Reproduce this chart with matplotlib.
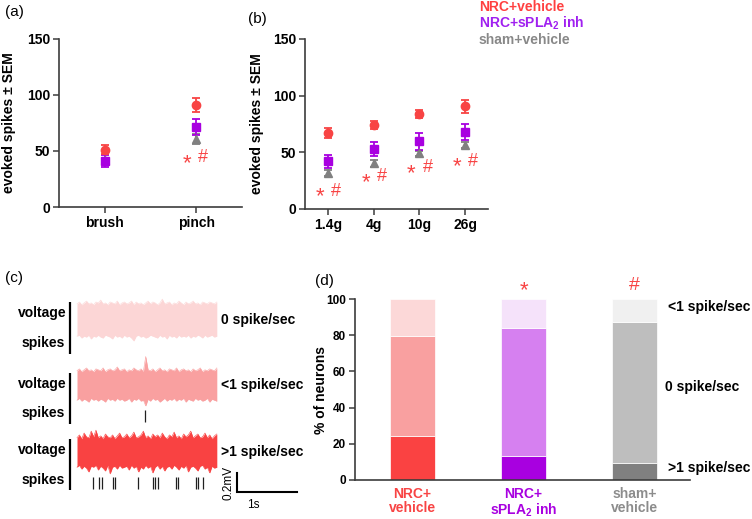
import numpy as np
import matplotlib
matplotlib.use("Agg")
import matplotlib.pyplot as plt

plt.rcParams['font.family'] = ['Liberation Sans', 'DejaVu Sans']
plt.rcParams['mathtext.fontset'] = 'custom'
plt.rcParams['mathtext.rm'] = 'Liberation Sans:bold'
plt.rcParams['mathtext.it'] = 'Liberation Sans:bold'
plt.rcParams['mathtext.bf'] = 'Liberation Sans:bold'
plt.rcParams['mathtext.default'] = 'rm'

# ---------------- data ----------------
groups = ["NRC+vehicle", "NRC+sPLA$_2$ inh", "sham+vehicle"]
grp_colors = ["#F84444", "#A800E0", "#808080"]
grp_markers = ["o", "s", "^"]

# panel (a)
a_cats = ["brush", "pinch"]
a_mean = {"NRC+vehicle": [51, 91], "NRC+sPLA$_2$ inh": [41, 71.5], "sham+vehicle": [42, 61]}
a_sem = {"NRC+vehicle": [4, 6.5], "NRC+sPLA$_2$ inh": [5.5, 7.5], "sham+vehicle": [2, 4.5]}
a_sig_y = [None, 44]

# panel (b)
b_cats = ["1.4g", "4g", "10g", "26g"]
b_mean = {"NRC+vehicle": [67, 74, 83.5, 90.5],
          "NRC+sPLA$_2$ inh": [42, 53, 60, 68],
          "sham+vehicle": [32, 40.5, 49, 56.5]}
b_sem = {"NRC+vehicle": [4.5, 3.5, 3.5, 6],
         "NRC+sPLA$_2$ inh": [6, 6, 7.5, 7],
         "sham+vehicle": [2.5, 3, 2.5, 3]}
b_sig_y = [15.5, 28.5, 36.5, 42]

# panel (c) voltage envelopes (mV relative to trace centre) and spike times (s)
trace_labels = ["0 spike/sec", "<1 spike/sec", ">1 spike/sec"]
trace_colors = ["#FCD6D6", "#F9A0A0", "#F94242"]
trace_dur = 2.33
up1 = [0.17,0.19,0.16,0.18,0.20,0.17,0.18,0.16,0.19,0.18,
       0.21,0.17,0.18,0.16,0.19,0.18,0.17,0.20,0.16,0.18,
       0.19,0.17,0.18,0.20,0.16,0.19,0.17,0.18,0.16,0.18,
       0.20,0.17,0.19,0.18,0.16,0.18,0.22,0.17,0.18,0.19,
       0.16,0.18,0.17,0.20,0.18,0.16,0.19,0.17,0.18,0.20,
       0.17,0.18,0.16,0.19,0.18,0.17,0.19,0.18,0.17,0.19]
lo1 = [0.17,0.16,0.19,0.17,0.18,0.16,0.20,0.17,0.18,0.16,
       0.18,0.19,0.16,0.17,0.18,0.20,0.16,0.18,0.17,0.19,
       0.16,0.18,0.17,0.19,0.22,0.17,0.16,0.18,0.17,0.19,
       0.18,0.16,0.17,0.18,0.19,0.16,0.18,0.17,0.20,0.16,
       0.18,0.17,0.19,0.16,0.18,0.17,0.18,0.16,0.19,0.17,
       0.18,0.16,0.17,0.19,0.16,0.18,0.17,0.16,0.18,0.17]
up2 = [0.15,0.17,0.14,0.16,0.18,0.15,0.16,0.14,0.17,0.16,
       0.15,0.18,0.14,0.16,0.17,0.15,0.16,0.19,0.15,0.16,
       0.17,0.14,0.16,0.15,0.18,0.16,0.15,0.17,0.14,0.30,
       0.16,0.15,0.17,0.14,0.16,0.18,0.15,0.16,0.14,0.17,
       0.16,0.15,0.18,0.14,0.16,0.17,0.15,0.16,0.14,0.17,
       0.15,0.16,0.18,0.14,0.16,0.15,0.17,0.16,0.15,0.18]
lo2 = [0.16,0.14,0.17,0.15,0.16,0.18,0.14,0.16,0.15,0.17,
       0.15,0.16,0.18,0.14,0.16,0.15,0.17,0.14,0.16,0.15,
       0.17,0.16,0.14,0.18,0.15,0.16,0.14,0.17,0.16,0.22,
       0.15,0.17,0.14,0.16,0.15,0.18,0.16,0.14,0.17,0.15,
       0.16,0.14,0.17,0.15,0.16,0.14,0.18,0.15,0.16,0.17,
       0.14,0.16,0.15,0.17,0.16,0.14,0.18,0.15,0.16,0.17]
up3 = [0.15,0.18,0.14,0.20,0.16,0.15,0.22,0.16,0.23,0.15,
       0.17,0.14,0.19,0.16,0.15,0.18,0.14,0.17,0.20,0.15,
       0.16,0.19,0.15,0.17,0.21,0.15,0.16,0.18,0.22,0.15,
       0.17,0.14,0.19,0.16,0.18,0.15,0.20,0.16,0.14,0.18,
       0.16,0.21,0.15,0.17,0.14,0.19,0.16,0.18,0.22,0.15,
       0.17,0.19,0.15,0.16,0.20,0.15,0.18,0.14,0.17,0.19]
lo3 = [0.16,0.14,0.18,0.15,0.17,0.21,0.15,0.16,0.14,0.19,
       0.15,0.17,0.20,0.14,0.23,0.16,0.15,0.18,0.14,0.17,
       0.16,0.15,0.19,0.14,0.17,0.15,0.21,0.16,0.18,0.14,
       0.17,0.15,0.22,0.16,0.14,0.18,0.15,0.20,0.16,0.15,
       0.18,0.14,0.16,0.19,0.15,0.17,0.14,0.21,0.16,0.15,
       0.17,0.20,0.15,0.14,0.18,0.16,0.22,0.15,0.17,0.16]
spikes1 = []
spikes2 = [1.13]
spikes3 = [0.26, 0.37, 0.41, 0.60, 0.63, 1.02, 1.26, 1.30, 1.35, 1.65, 1.68, 1.98, 2.02, 2.10]

# panel (d)
d_cats = ["NRC+\nvehicle", "NRC+\nsPLA$_2$ inh", "sham+\nvehicle"]
d_gt1 = [24.5, 13.0, 9.5]
d_zero = [55.0, 71.0, 78.0]
d_lt1 = [20.5, 16.0, 12.5]
d_colors_gt1 = ["#FA4242", "#A800E0", "#808080"]
d_colors_zero = ["#F9A0A0", "#D680F0", "#BEBEBE"]
d_colors_lt1 = ["#FCD8D8", "#F5E2FA", "#F0F0F0"]
d_tick_colors = ["#F84444", "#A800E0", "#8C8C8C"]
d_marks = ["", "*", "#"]

# ---------------- figure ----------------
W, H = 752, 519
fig = plt.figure(figsize=(W / 100, H / 100), dpi=100)

def px_axes(left, top, right, bottom):
    return fig.add_axes([left / W, 1 - bottom / H, (right - left) / W, (bottom - top) / H])

def fx(x):
    return x / W

def fy(y):
    return 1 - y / H

SPINE = "#3C3C3C"
SIGRED = "#F84444"

def style_axes(ax):
    for s in ["top", "right"]:
        ax.spines[s].set_visible(False)
    for s in ["left", "bottom"]:
        ax.spines[s].set_color(SPINE)
        ax.spines[s].set_linewidth(1.2)
    ax.tick_params(colors=SPINE, length=4.5, width=1.1, labelcolor="black", pad=2)
    for lab in ax.get_xticklabels() + ax.get_yticklabels():
        lab.set_fontweight("bold")

def scatter_panel(ax, cats, means, sems, sig_y, star_dx, hash_dx):
    x = np.arange(len(cats))
    order = ["sham+vehicle", "NRC+sPLA$_2$ inh", "NRC+vehicle"]
    for g in order:
        i = groups.index(g)
        ax.errorbar(x, means[g], yerr=sems[g], fmt=grp_markers[i], color=grp_colors[i],
                    ms=6, capsize=3, elinewidth=1.3, capthick=1.3, zorder=3)
    ax.set_xlim(-0.5, len(cats) - 0.5)
    ax.set_ylim(0, 150)
    ax.set_yticks([0, 50, 100, 150])
    ax.set_xticks(x)
    ax.set_xticklabels(cats, fontsize=10, fontweight="bold")
    ax.tick_params(axis="x", pad=6)
    ax.set_ylabel("evoked spikes ± SEM", fontsize=10, fontweight="bold")
    style_axes(ax)
    for lab in ax.get_yticklabels():
        lab.set_fontsize(10)
    for xi, yv in zip(x, sig_y):
        if yv is None:
            continue
        ax.annotate("*", xy=(xi, yv), xytext=(star_dx, -4), textcoords="offset points",
                    ha="center", va="center", fontsize=16, color=SIGRED)
        ax.annotate("#", xy=(xi, yv), xytext=(hash_dx, 0), textcoords="offset points",
                    ha="center", va="center", fontsize=13, color=SIGRED)

# panel (a)
ax_a = px_axes(59, 39, 242, 207)
scatter_panel(ax_a, a_cats, a_mean, a_sem, a_sig_y, -6.5, 5)
ax_a.yaxis.set_label_coords(-0.235, 0.5)
fig.text(fx(5), fy(12), "(a)", fontsize=11, va="center", ha="left")

# panel (b)
ax_b = px_axes(305, 39, 488, 209)
scatter_panel(ax_b, b_cats, b_mean, b_sem, b_sig_y, -5.8, 5.8)
ax_b.yaxis.set_label_coords(-0.225, 0.5)
fig.text(fx(248), fy(19), "(b)", fontsize=11, va="center", ha="left")

# legend text
for i, g in enumerate(groups):
    fig.text(fx(479), fy(7 + 16.5 * i), g, fontsize=10, fontweight="bold",
             color=["#FF4040", "#A020F0", "#888888"][i], va="center", ha="left")

# panel (c)
PX_S, PX_MV = 60.0, 95.0
ax_c = px_axes(60, 290, 320, 510)
ax_c.set_xlim((60 - 77) / PX_S, (320 - 77) / PX_S)
ax_c.set_ylim((500 - 510) / PX_MV, (500 - 290) / PX_MV)
ax_c.axis("off")
fig.text(fx(5), fy(278), "(c)", fontsize=11, va="center", ha="left")

centers_px = [320, 385, 452]
ups = [up1, up2, up3]
los = [lo1, lo2, lo3]
spike_sets = [spikes1, spikes2, spikes3]
bar_px = [(302, 354), (373, 424), (439, 490)]
volt_px = [313, 384, 450]
spk_px = [343, 413, 480]
spk_tick_px = [(0, 0), (410, 422), (477, 489)]
for k in range(3):
    c = (500 - centers_px[k]) / PX_MV
    up = np.array(ups[k])
    lo = np.array(los[k])
    t = np.linspace(0, trace_dur, len(up))
    ax_c.fill_between(t, c - lo, c + up, color=trace_colors[k], lw=0)
    ax_c.plot(t, c + up, color=trace_colors[k], lw=0.4)
    ax_c.plot(t, c - lo, color=trace_colors[k], lw=0.4)
    b0, b1 = bar_px[k]
    ax_c.plot([-7 / PX_S, -7 / PX_S], [(500 - b0) / PX_MV, (500 - b1) / PX_MV], color="black", lw=1.6,
              solid_capstyle="butt")
    ax_c.text(-10 / PX_S, (500 - volt_px[k]) / PX_MV, "voltage", ha="right", va="center",
              fontsize=10, fontweight="bold")
    ax_c.text(-12 / PX_S, (500 - spk_px[k]) / PX_MV, "spikes", ha="right", va="center",
              fontsize=10, fontweight="bold")
    ax_c.text((221 - 77) / PX_S, c, trace_labels[k], ha="left", va="center",
              fontsize=10, fontweight="bold")
    if spike_sets[k]:
        s0, s1 = spk_tick_px[k]
        ax_c.vlines(spike_sets[k], (500 - s1) / PX_MV, (500 - s0) / PX_MV, color="#202020", lw=0.9)

# scale bar
sx = (237 - 77) / PX_S
sy = (500 - 492) / PX_MV
ax_c.plot([sx, sx, sx + 1.0], [sy + 0.2, sy, sy], color="black", lw=1.5, solid_joinstyle="miter")
ax_c.text(sx - 9 / PX_S, sy + 0.1, "0.2mV", rotation=90, ha="center", va="center", fontsize=8.5)
ax_c.text(sx + 16 / PX_S, sy - 13 / PX_MV, "1s", ha="center", va="center", fontsize=8.5)

# panel (d)
ax_d = px_axes(355, 299, 690, 480)
xd = np.arange(len(d_cats))
bw = 0.4
ax_d.bar(xd, d_gt1, bw, color=d_colors_gt1, edgecolor="white", linewidth=0.5)
ax_d.bar(xd, d_zero, bw, bottom=d_gt1, color=d_colors_zero, edgecolor="white", linewidth=0.5)
ax_d.bar(xd, d_lt1, bw, bottom=np.array(d_gt1) + np.array(d_zero), color=d_colors_lt1,
         edgecolor="white", linewidth=0.5)
ax_d.set_xlim(-0.52, 2.5)
ax_d.set_ylim(0, 100)
ax_d.set_yticks([0, 20, 40, 60, 80, 100])
ax_d.set_xticks(xd)
ax_d.set_xticklabels(d_cats, fontsize=10, fontweight="bold", linespacing=1.05)
ax_d.set_ylabel("% of neurons", fontsize=10, fontweight="bold")
ax_d.yaxis.set_label_coords(-0.08, 0.5)
style_axes(ax_d)
ax_d.tick_params(axis="x", length=0, pad=5)
for lab, col in zip(ax_d.get_xticklabels(), d_tick_colors):
    lab.set_color(col)
for lab in ax_d.get_yticklabels():
    lab.set_fontsize(8.5)
for xi, m in zip(xd, d_marks):
    if not m:
        continue
    dy = -4 if m == "*" else 0
    ax_d.annotate(m, xy=(xi, 107.5), xytext=(0, dy), textcoords="offset points",
                  ha="center", va="center", fontsize=16 if m == "*" else 14,
                  color=SIGRED, annotation_clip=False)
fig.text(fx(315), fy(281), "(d)", fontsize=11, va="center", ha="left")

d_right = ["<1 spike/sec", "0 spike/sec", ">1 spike/sec"]
d_right_px = [(668, 307), (665, 387), (668, 468)]
for txt, (px, py) in zip(d_right, d_right_px):
    fig.text(fx(px), fy(py), txt, fontsize=10, fontweight="bold", va="center", ha="left")

fig.savefig("out.png", dpi=100)
